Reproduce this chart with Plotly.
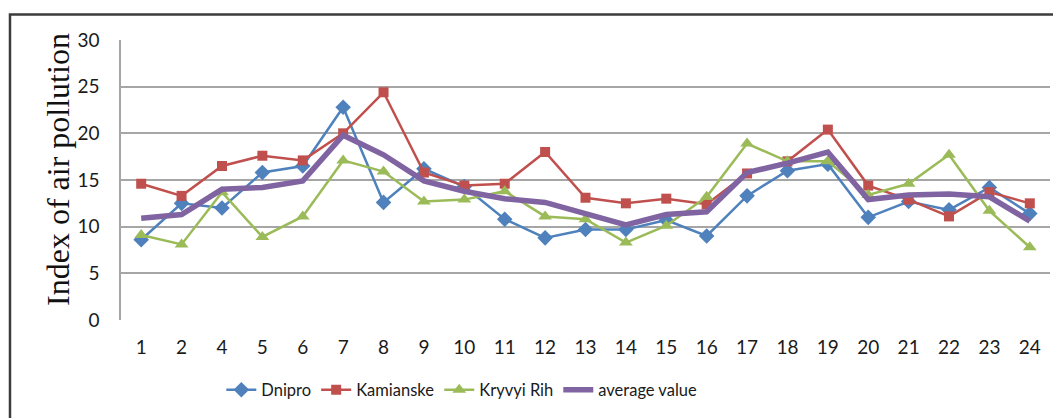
import plotly.graph_objects as go

labels = ["1", "2", "4", "5", "6", "7", "8", "9", "10", "11", "12", "13",
          "14", "15", "16", "17", "18", "19", "20", "21", "22", "23", "24"]
dnipro = [8.6, 12.5, 12.0, 15.8, 16.5, 22.8, 12.6, 16.2, 14.3, 10.8, 8.8, 9.7,
          9.7, 10.7, 9.0, 13.3, 16.0, 16.7, 11.0, 12.7, 11.8, 14.2, 11.4]
kamianske = [14.6, 13.3, 16.5, 17.6, 17.1, 20.0, 24.4, 15.8, 14.4, 14.6, 18.0, 13.1,
             12.5, 13.0, 12.4, 15.7, 17.0, 20.4, 14.4, 12.9, 11.1, 13.7, 12.5]
kryvyi_rih = [9.1, 8.1, 13.7, 8.9, 11.1, 17.1, 15.9, 12.7, 12.9, 13.8, 11.1, 10.8,
              8.3, 10.1, 13.2, 18.9, 17.0, 17.0, 13.4, 14.6, 17.7, 11.7, 7.8]
average = [10.9, 11.3, 14.0, 14.2, 14.9, 19.8, 17.7, 14.9, 13.8, 13.0, 12.6, 11.4,
           10.2, 11.3, 11.6, 15.8, 16.8, 18.0, 12.9, 13.4, 13.5, 13.2, 10.6]
y_ticks = [0, 5, 10, 15, 20, 25, 30]
y_title = "Index of air pollution"

fig = go.Figure()
fig.add_trace(go.Scatter(x=labels, y=dnipro, name="Dnipro", mode="lines+markers",
                         line=dict(color="#4F81BD", width=2.5),
                         marker=dict(symbol="diamond", size=12, color="#4F81BD")))
fig.add_trace(go.Scatter(x=labels, y=kamianske, name="Kamianske", mode="lines+markers",
                         line=dict(color="#C0504D", width=2.5),
                         marker=dict(symbol="square", size=10, color="#C0504D")))
fig.add_trace(go.Scatter(x=labels, y=kryvyi_rih, name="Kryvyi Rih", mode="lines+markers",
                         line=dict(color="#9BBB59", width=2.5),
                         marker=dict(symbol="triangle-up", size=12, color="#9BBB59")))
fig.add_trace(go.Scatter(x=labels, y=average, name="average value", mode="lines",
                         line=dict(color="#8064A2", width=5.5)))

fig.update_layout(
    width=1053, height=410,
    margin=dict(l=113, r=11, t=32, b=98, autoexpand=False),
    paper_bgcolor="white", plot_bgcolor="white",
    font=dict(family="Lato, Calibri, sans-serif", size=19, color="#1a1a1a"),
    showlegend=True,
    legend=dict(orientation="h", x=0.108, xanchor="left", y=-0.25, yanchor="middle",
                font=dict(family="Lato, Calibri, sans-serif", size=16.5, color="#1a1a1a"),
                itemwidth=30, traceorder="normal"),
    xaxis=dict(type="category", categoryorder="array", categoryarray=labels,
               range=[-0.5, len(labels) - 0.5], automargin=False,
               showgrid=False, showline=False, ticks="", zeroline=False,
               ticklabelstandoff=14, tickfont=dict(size=19)),
    yaxis=dict(range=[0, 30], tickvals=y_ticks, showgrid=True, gridcolor="#A6A6A6",
               gridwidth=1.5, showline=True, linecolor="#A6A6A6", linewidth=1.5,
               zeroline=False, ticks="", ticklabelstandoff=16, automargin=False,
               tickfont=dict(size=19)),
    annotations=[dict(text=y_title, xref="paper", yref="paper", x=-0.0678, y=0.536,
                      xanchor="center", yanchor="middle", textangle=-90, showarrow=False,
                      font=dict(family="Liberation Serif, Times New Roman, serif",
                                size=32, color="#111111"))],
    shapes=[dict(type="rect", xref="paper", yref="paper",
                 x0=-0.1195, x1=1.05, y0=-0.5, y1=1.091,
                 line=dict(color="#3C3C3C", width=2.5), fillcolor="rgba(0,0,0,0)",
                 layer="below")],
)

fig.write_html("out.html")
